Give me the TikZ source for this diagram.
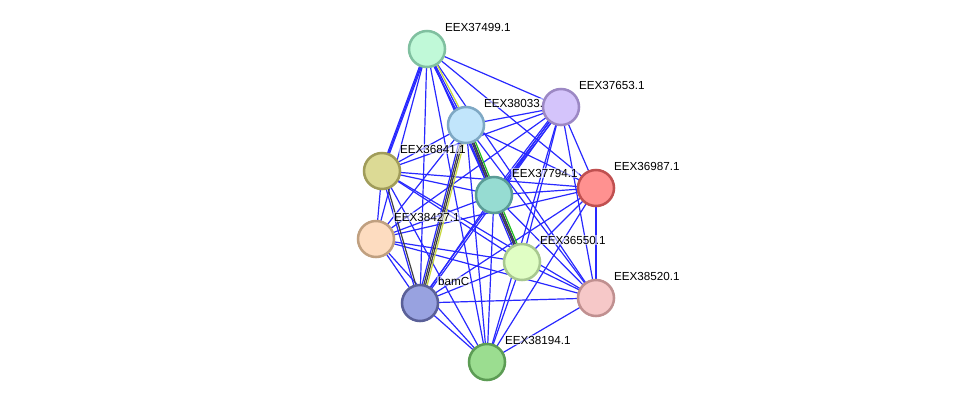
\documentclass[tikz,border=0pt]{standalone}
\usepackage{fontspec}
\setmainfont{Liberation Sans}
\definecolor{edgeblue}{RGB}{40,40,255}
\definecolor{edgedark}{RGB}{64,64,64}
\definecolor{edgeyellow}{RGB}{200,216,60}
\definecolor{edgegreen}{RGB}{30,190,30}
\usetikzlibrary{calc}
\pgfdeclarelayer{edges}
\pgfdeclarelayer{labels}
\pgfsetlayers{edges,labels,main}

\begin{document}
\begin{tikzpicture}[x=0.025cm, y=-0.025cm,
    prot/.style={circle, minimum size=0.9cm, inner sep=0pt, line width=1.8pt},
    plabel/.style={anchor=west, font=\fontsize{8.3}{10}\selectfont, inner sep=0.6pt,
                   fill=white, fill opacity=0.55, text opacity=1},
    link/.style={edgeblue, line width=0.85pt}
  ]
  \useasboundingbox (0,0) rectangle (976,408);

  % proteins
  \node[prot, fill={rgb,255:red,192;green,249;blue,216}, draw={rgb,255:red,128;green,192;blue,160}] (p37499) at (427,49) {};
  \node[prot, fill={rgb,255:red,212;green,196;blue,251}, draw={rgb,255:red,156;green,136;blue,196}] (p37653) at (561,107) {};
  \node[prot, fill={rgb,255:red,193;green,229;blue,251}, draw={rgb,255:red,126;green,168;blue,196}] (p38033) at (466,125) {};
  \node[prot, fill={rgb,255:red,220;green,218;blue,149}, draw={rgb,255:red,160;green,156;blue,90}]  (p36841) at (382,171) {};
  \node[prot, fill={rgb,255:red,150;green,220;blue,210}, draw={rgb,255:red,90;green,156;blue,150}]  (p37794) at (494,195) {};
  \node[prot, fill={rgb,255:red,255;green,145;blue,144}, draw={rgb,255:red,192;green,80;blue,80}]   (p36987) at (596,188) {};
  \node[prot, fill={rgb,255:red,253;green,220;blue,192}, draw={rgb,255:red,192;green,160;blue,128}] (p38427) at (376,239) {};
  \node[prot, fill={rgb,255:red,224;green,254;blue,196}, draw={rgb,255:red,168;green,200;blue,144}] (p36550) at (522,262) {};
  \node[prot, fill={rgb,255:red,246;green,200;blue,200}, draw={rgb,255:red,192;green,144;blue,144}] (p38520) at (596,298) {};
  \node[prot, fill={rgb,255:red,152;green,162;blue,224}, draw={rgb,255:red,90;green,96;blue,152}]   (pbamC)  at (420,303) {};
  \node[prot, fill={rgb,255:red,155;green,221;blue,144}, draw={rgb,255:red,92;green,156;blue,84}]   (p38194) at (487,362) {};

  % names
  \begin{pgfonlayer}{labels}
    \node[plabel] (l37499) at ($(p37499)+(17,-22)$) {EEX37499.1};
    \node[plabel] (l37653) at ($(p37653)+(17,-22)$) {EEX37653.1};
    \node[plabel] (l38033) at ($(p38033)+(17,-22)$) {EEX38033.1};
    \node[plabel] (l36841) at ($(p36841)+(17,-22)$) {EEX36841.1};
    \node[plabel] (l37794) at ($(p37794)+(17,-22)$) {EEX37794.1};
    \node[plabel] (l36987) at ($(p36987)+(17,-22)$) {EEX36987.1};
    \node[plabel] (l38427) at ($(p38427)+(17,-22)$) {EEX38427.1};
    \node[plabel] (l36550) at ($(p36550)+(17,-22)$) {EEX36550.1};
    \node[plabel] (l38520) at ($(p38520)+(17,-22)$) {EEX38520.1};
    \node[plabel] (lbamC)  at ($(pbamC)+(17,-22)$)  {bamC};
    \node[plabel] (l38194) at ($(p38194)+(17,-22)$) {EEX38194.1};
  \end{pgfonlayer}

  % interactions
  \begin{pgfonlayer}{edges}
    \foreach \a/\b in {37499/37653, 37499/36841, 37499/37794, 37499/36987, 37499/38427,
                       37499/36550, 37499/38520, 37499/bamC, 37499/38194,
                       37653/38033, 37653/36841, 37653/36987, 37653/38427, 37653/36550,
                       37653/38520, 37653/38194,
                       38033/36841, 38033/36987, 38033/38427, 38033/36550, 38033/38520, 38033/38194,
                       36841/37794, 36841/36987, 36841/38427, 36841/36550, 36841/38520, 36841/38194,
                       37794/36987, 37794/38427, 37794/38520, 37794/bamC, 37794/38194,
                       36987/38427, 36987/36550, 36987/38520, 36987/bamC, 36987/38194,
                       38427/36550, 38427/38520, 38427/bamC, 38427/38194,
                       36550/38520, 36550/bamC, 36550/38194,
                       38520/bamC, 38520/38194, bamC/38194}
      \draw[link] (p\a.center) -- (p\b.center);

    % bundled links
    \foreach \a/\b/\o/\c in {37499/38033/-1.3pt/edgeblue, 37499/38033/0pt/edgeblue, 37499/38033/1.3pt/edgeyellow,
                             38033/37794/-1.8pt/edgeblue, 38033/37794/-0.6pt/edgedark, 38033/37794/0.6pt/edgedark, 38033/37794/1.8pt/edgegreen,
                             37794/36550/-1.8pt/edgeblue, 37794/36550/-0.6pt/edgedark, 37794/36550/0.6pt/edgedark, 37794/36550/1.8pt/edgegreen,
                             38033/bamC/-1.8pt/edgeblue, 38033/bamC/-0.6pt/edgedark, 38033/bamC/0.6pt/edgedark, 38033/bamC/1.8pt/edgeyellow,
                             36841/bamC/-0.7pt/edgeblue, 36841/bamC/0.7pt/edgedark,
                             37653/37794/-1.3pt/edgeblue, 37653/37794/0pt/edgeblue, 37653/37794/1.3pt/edgeblue,
                             37653/bamC/-0.7pt/edgeblue, 37653/bamC/0.7pt/edgeblue,
                             37499/36841/-0.7pt/edgeblue, 37499/36841/0.7pt/edgeblue}
      \draw[link, draw=\c] ($(p\a.center)!\o!90:(p\b.center)$) -- ($(p\b.center)!\o!-90:(p\a.center)$);
  \end{pgfonlayer}
\end{tikzpicture}
\end{document}
